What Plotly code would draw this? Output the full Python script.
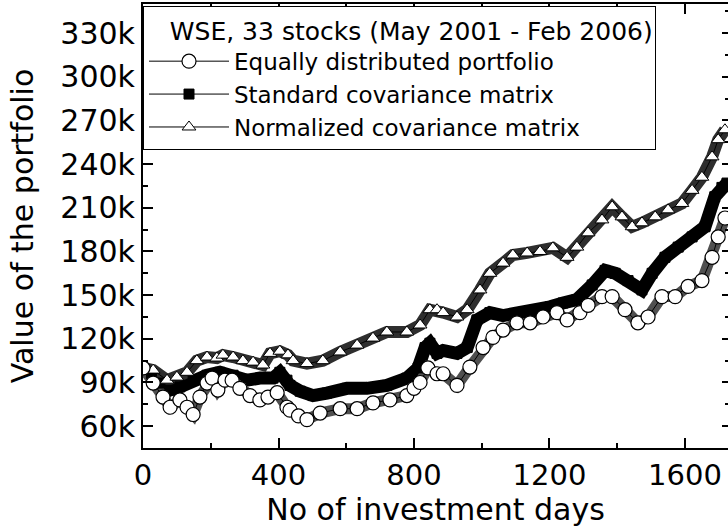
import plotly.graph_objects as go

# ---- data ----
equal_days = [0, 30, 59, 80, 109, 130, 148, 168, 189, 204, 221, 242, 263, 286, 316, 345, 369, 396,
              425, 434, 459, 484, 523, 582, 632, 679, 729, 779, 800, 818, 841, 868, 886, 927, 965,
              1004, 1033, 1063, 1104, 1143, 1181, 1222, 1252, 1290, 1314, 1355, 1385, 1423, 1461,
              1491, 1532, 1571, 1609, 1650, 1680, 1698, 1718]
equal_vals = [100, 89.6, 80, 73, 78, 73, 68, 80, 89.6, 93, 84.8, 91.6, 91.6, 86, 81, 78, 80, 83,
              73, 71, 67, 64.5, 69, 72, 72, 76, 78, 81, 86, 90, 100, 96, 96, 88, 100.6,
              114, 121, 126, 131, 131, 135, 138, 133, 138, 143, 149, 149, 140, 131,
              135, 149, 149, 156, 160, 176, 190, 203]

std_days = [0, 25, 50, 80, 109, 148, 189, 227, 266, 307, 345, 384, 404, 425, 434, 464, 502, 543,
            602, 661, 720, 779, 812, 833, 847, 868, 886, 927, 957, 986, 1024, 1063, 1122, 1163,
            1202, 1240, 1281, 1326, 1364, 1394, 1432, 1473, 1503, 1541, 1580, 1621, 1659, 1688,
            1709, 1724]
std_vals = [100, 96, 89.6, 84.8, 87, 91.6, 95, 97, 95, 91.6, 93, 93, 97, 91.6, 88, 84, 81, 82.7,
            86, 86, 88, 93, 100, 114, 117, 110, 112, 110, 114, 133, 138, 136, 138, 138.5,
            142, 144.6, 147, 157, 167, 165, 160, 153.6, 165, 176, 183, 190, 197, 217.6,
            224, 227]

norm_days = [0, 30, 71, 100, 130, 159, 189, 218, 236, 266, 295, 325, 354, 375, 404, 428, 443, 484,
             531, 582, 632, 679, 720, 779, 818, 847, 868, 886, 927, 957, 995, 1024, 1063, 1092,
             1134, 1172, 1210, 1252, 1281, 1314, 1355, 1385, 1414, 1444, 1473, 1512, 1550, 1591,
             1621, 1650, 1680, 1698, 1718]
norm_vals = [100, 98.5, 91.6, 93.7, 97, 105, 107.5, 106.8, 108.8, 107.5, 105, 104, 102, 110, 111.5, 109, 105, 103,
             105, 111, 115.7, 120.5, 124.7, 124.7, 129.5, 140, 140, 138, 135, 140, 153.6, 165, 172, 177.6,
             179, 180, 182.5, 176, 183, 192.8, 201.7, 210.7, 203.8, 197, 199.7, 203.8, 208.6, 213,
             222, 231, 245, 256.8, 263.6]

series_names = ["Equally distributed portfolio", "Standard covariance matrix", "Normalized covariance matrix"]
legend_title = "WSE, 33 stocks (May 2001 - Feb 2006)"

y_tick_vals = [60, 90, 120, 150, 180, 210, 240, 270, 300, 330]
y_tick_text = ["60k", "90k", "120k", "150k", "180k", "210k", "240k", "270k", "300k", "330k"]
x_tick_vals = [0, 400, 800, 1200, 1600]
x_tick_text = ["0", "400", "800", "1200", "1600"]

FONT = "DejaVu Sans"

fig = go.Figure()

# ---- dense "band" look of the original (many overlapping markers) ----
fig.add_trace(go.Scatter(x=std_days, y=std_vals, mode="lines", showlegend=False, hoverinfo="skip",
                         line=dict(color="black", width=13)))
fig.add_trace(go.Scatter(x=norm_days, y=norm_vals, mode="lines", showlegend=False, hoverinfo="skip",
                         line=dict(color="#2e2e2e", width=12)))
fig.add_trace(go.Scatter(x=equal_days, y=equal_vals, mode="lines", showlegend=False, hoverinfo="skip",
                         line=dict(color="#505050", width=11)))

# ---- the three series with markers (legend entries) ----
fig.add_trace(go.Scatter(
    x=std_days, y=std_vals, mode="lines+markers", name=series_names[1], legendrank=2,
    line=dict(color="black", width=1),
    marker=dict(symbol="square", size=10, color="black", line=dict(color="black", width=1)),
))
fig.add_trace(go.Scatter(
    x=norm_days, y=norm_vals, mode="lines+markers", name=series_names[2], legendrank=3,
    line=dict(color="black", width=1),
    marker=dict(symbol="triangle-up", size=12, color="white", line=dict(color="black", width=1)),
))
fig.add_trace(go.Scatter(
    x=equal_days, y=equal_vals, mode="lines+markers", name=series_names[0], legendrank=1,
    line=dict(color="black", width=1),
    marker=dict(symbol="circle", size=14, color="white", line=dict(color="black", width=1.2)),
))

# invisible helper trace for right-side mirror ticks
fig.add_trace(go.Scatter(x=[0], y=[60], yaxis="y2", showlegend=False,
                         mode="markers", marker=dict(opacity=0), hoverinfo="skip"))

fig.update_layout(
    width=728, height=527,
    margin=dict(l=143, r=0, t=4, b=79),
    paper_bgcolor="white", plot_bgcolor="white",
    font=dict(family=FONT, color="black"),
    xaxis=dict(
        range=[0, 1727], showgrid=False, zeroline=False,
        showline=True, linecolor="black", linewidth=2, mirror="ticks",
        ticks="inside", ticklen=10, tickwidth=1.5, tickcolor="black",
        tickvals=x_tick_vals, ticktext=x_tick_text,
        tickfont=dict(family=FONT, size=29),
        minor=dict(ticks="inside", ticklen=5, tickwidth=1.5, dtick=200, tick0=0, tickcolor="black", showgrid=False),
        title=dict(text="No of investment days", font=dict(family=FONT, size=30), standoff=2),
    ),
    yaxis=dict(
        range=[45, 350], showgrid=False, zeroline=False,
        showline=True, linecolor="black", linewidth=2,
        ticks="inside", ticklen=10, tickwidth=1.5, tickcolor="black",
        tickvals=y_tick_vals, ticktext=y_tick_text,
        tickfont=dict(family=FONT, size=30),
        minor=dict(ticks="inside", ticklen=5, tickwidth=1.5, dtick=15, tick0=0, tickcolor="black", showgrid=False),
        title=dict(text="Value of the portfolio", font=dict(family=FONT, size=30), standoff=18),
    ),
    yaxis2=dict(
        range=[45, 350], overlaying="y", side="right", showgrid=False, zeroline=False,
        showline=False, showticklabels=False,
        ticks="inside", ticklen=6, tickwidth=1.5, tickcolor="black",
        tickvals=y_tick_vals,
        minor=dict(ticks="inside", ticklen=3, tickwidth=1.5, dtick=15, tick0=0, tickcolor="black", showgrid=False),
    ),
    legend=dict(
        x=0, y=0.995, xanchor="left", yanchor="top",
        bgcolor="white", bordercolor="black", borderwidth=1,
        font=dict(family=FONT, size=23),
        title=dict(text="   " + legend_title, font=dict(family=FONT, size=25)),
        itemwidth=80, tracegroupgap=0,
    ),
    showlegend=True,
)

fig.write_html(
    "out.html",
    config={"displayModeBar": False},
    post_script="document.body.style.margin='0';document.body.style.overflow='hidden';",
)
